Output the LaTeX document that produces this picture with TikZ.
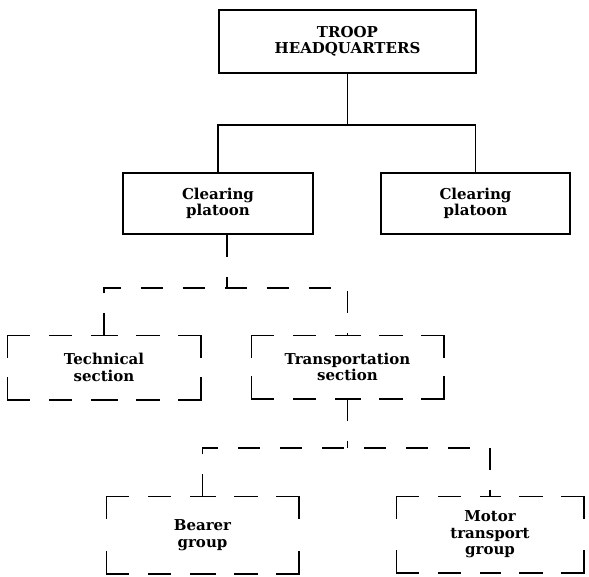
\documentclass[tikz,border=0pt]{standalone}
\usepackage{fontspec}
\setmainfont{DejaVu Serif}
\newcommand{\dframe}[1]{%
  \foreach \a/\b in {north west/north,north east/north,north east/east,south east/east,
    south east/south,south west/south,south west/west,north west/west}
    {\draw[dlink,line cap=rect] (#1.\a) -- (#1.\b);}}
\begin{document}
\begin{tikzpicture}[x=1pt,y=-1pt,
  box/.style={draw,line width=1.5pt,rectangle,align=center,inner sep=0pt,
    font=\fontsize{15}{16.5}\selectfont\bfseries},
  dbox/.style={box,draw=none},
  link/.style={line width=1.5pt},
  dlink/.style={line width=1.5pt,dash pattern=on 22pt off 20pt}]
\useasboundingbox (0,0) rectangle (589,576);
\node[box,minimum width=257pt,minimum height=63pt] (hq) at (347.5,41.5) {TROOP\\HEADQUARTERS};
\node[box,minimum width=190pt,minimum height=61pt] (cl1) at (218,203.5) {Clearing\\platoon};
\node[box,minimum width=189pt,minimum height=61pt] (cl2) at (475.5,203.5) {Clearing\\platoon};
\node[dbox,minimum width=192pt,minimum height=63pt] (tech) at (104,367.5) {Technical\\section};
\node[dbox,minimum width=191pt,minimum height=62pt] (trans) at (347.5,367) {Transportation\\section};
\node[dbox,minimum width=191pt,minimum height=76pt] (bear) at (202.5,535) {Bearer\\group};
\node[dbox,minimum width=186pt,minimum height=75pt] (mot) at (490,534.5) {Motor\\transport\\group};
\dframe{tech}
\dframe{trans}
\dframe{bear}
\dframe{mot}
\coordinate (j1) at (347.5,125);
\coordinate (j2) at (227,288);
\coordinate (j3) at (347.5,448);
\draw[link] (hq.south) -- (j1);
\draw[link] (cl1.north) |- (j1) -| (cl2.north);
\draw[dlink] (cl1.south -| j2) -- (j2);
\draw[dlink] (tech.north) |- (j2) -| (trans.north);
\draw[dlink] (trans.south) -- (j3);
\draw[dlink] (bear.north) |- (j3) -| (mot.north);
\end{tikzpicture}
\end{document}
